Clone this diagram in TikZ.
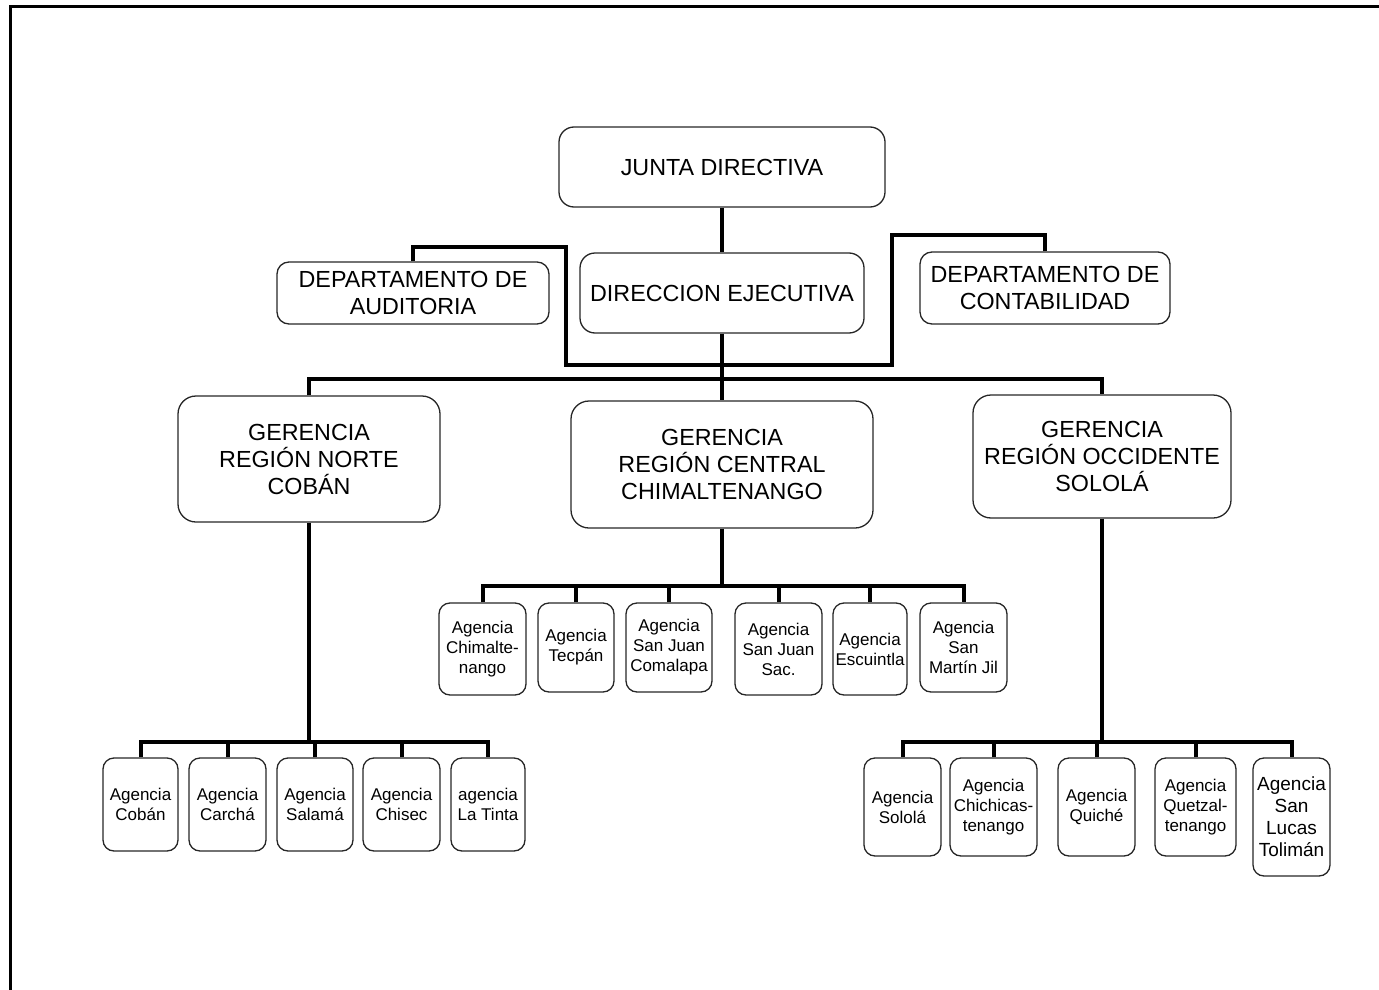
\documentclass[tikz,border=0pt]{standalone}
\usepackage{fontspec}
\setmainfont{Liberation Sans}
\tikzset{
  wh/.style 2 args={minimum width=#1pt, minimum height=#2pt},
  bigbox/.style={draw=black!85, line width=1.3pt, rounded corners=15pt, align=center, inner sep=0pt, font=\fontsize{23.3}{27}\selectfont},
  agbox/.style={draw=black!85, line width=1.3pt, rounded corners=11pt, align=center, inner sep=0pt, font=\fontsize{17}{20}\selectfont},
  conn/.style={line width=4pt, line join=miter, line cap=butt},
  frameline/.style={line width=3pt}
}
\begin{document}
\begin{tikzpicture}[x=1pt,y=-1pt]
\useasboundingbox (0,0) rectangle (1379,990);
\draw[frameline] (10,990) -- (10,7) -- (1379,7);

% top level
\node[bigbox, wh={326}{80}] (junta) at (722,167) {JUNTA DIRECTIVA};
\node[bigbox, wh={284}{80}] (direc) at (722,293) {DIRECCION EJECUTIVA};
\node[bigbox, rounded corners=12pt, wh={272}{62}] (audit) at (413,293) {DEPARTAMENTO DE\\AUDITORIA};
\node[bigbox, rounded corners=12pt, wh={250}{72}] (contab) at (1045,288) {DEPARTAMENTO DE\\CONTABILIDAD};

% gerencias
\node[bigbox, rounded corners=18pt, wh={262}{126}] (gnor) at (309,459) {GERENCIA\\REGIÓN NORTE\\COBÁN};
\node[bigbox, rounded corners=18pt, wh={302}{127}] (gcen) at (722,464.5) {GERENCIA\\REGIÓN CENTRAL\\CHIMALTENANGO};
\node[bigbox, rounded corners=18pt, wh={258}{123}] (gocc) at (1102,456.5) {GERENCIA\\REGIÓN OCCIDENTE\\SOLOLÁ};

% agencias norte
\node[agbox, wh={75}{93}] (n1) at (140.5,804.5) {Agencia\\Cobán};
\node[agbox, wh={77}{93}] (n2) at (227.5,804.5) {Agencia\\Carchá};
\node[agbox, wh={76}{93}] (n3) at (315,804.5) {Agencia\\Salamá};
\node[agbox, wh={77}{93}] (n4) at (401.5,804.5) {Agencia\\Chisec};
\node[agbox, wh={74}{93}] (n5) at (488,804.5) {agencia\\La Tinta};

% agencias central
\node[agbox, wh={87}{92}] (c1) at (482.5,649) {Agencia\\Chimalte-\\nango};
\node[agbox, wh={76}{89}] (c2) at (576,647.5) {Agencia\\Tecpán};
\node[agbox, wh={86}{89}] (c3) at (669,647.5) {Agencia\\San Juan\\Comalapa};
\node[agbox, wh={87}{92}] (c4) at (778.5,649) {Agencia\\San Juan\\Sac.};
\node[agbox, wh={74}{92}] (c5) at (870,649) {Agencia\\Escuintla};
\node[agbox, wh={87}{89}] (c6) at (963.5,647.5) {Agencia\\San\\Martín Jil};

% agencias occidente
\node[agbox, wh={77}{98}] (o1) at (902.5,807) {Agencia\\Sololá};
\node[agbox, wh={87}{98}] (o2) at (993.5,807) {Agencia\\Chichicas-\\tenango};
\node[agbox, wh={77}{98}] (o3) at (1096.5,807) {Agencia\\Quiché};
\node[agbox, wh={81}{98}] (o4) at (1195.5,807) {Agencia\\Quetzal-\\tenango};
\node[agbox, wh={77}{118}, font=\fontsize{19}{22}\selectfont] (o5) at (1291.5,817) {Agencia\\San\\Lucas\\Tolimán};

% coordinates
\coordinate (aTR) at (566,247);
\coordinate (aBR) at (566,365);
\coordinate (cTL) at (892,235);
\coordinate (cBL) at (892,365);
\coordinate (bus) at (722,379);
\coordinate (sbN) at (309,742);
\coordinate (sbC) at (722,586);
\coordinate (sbO) at (1102,742);

% connectors top
\draw[conn] (junta.south) -- (direc.north);
\draw[conn] (direc.south) -- (gcen.north);
\draw[conn] (audit.north) |- (aTR) -- (aBR) -- (aBR -| direc.south);
\draw[conn] (contab.north) |- (cTL) -- (cBL) -- (cBL -| direc.south);
\draw[conn] (gnor.north) |- (bus) -| (gocc.north);

% norte
\draw[conn] (gnor.south) -- (sbN);
\draw[conn] (n1.north) |- (sbN) -| (n5.north);
\foreach \n in {n2,n3,n4} \draw[conn] (\n.north) -- (\n.north |- sbN);

% central
\draw[conn] (gcen.south) -- (sbC);
\draw[conn] (c1.north) |- (sbC) -| (c6.north);
\foreach \n in {c2,c3,c4,c5} \draw[conn] (\n.north) -- (\n.north |- sbC);

% occidente
\draw[conn] (gocc.south) -- (sbO);
\draw[conn] (o1.north) |- (sbO) -| (o5.north);
\foreach \n in {o2,o3,o4} \draw[conn] (\n.north) -- (\n.north |- sbO);
\end{tikzpicture}
\end{document}
